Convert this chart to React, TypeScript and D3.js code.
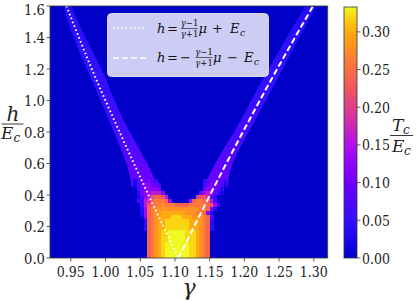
import * as d3 from 'd3';

const xTicks = [0.95, 1.0, 1.05, 1.1, 1.15, 1.2, 1.25, 1.3];
const yTicks = [0, 0.2, 0.4, 0.6, 0.8, 1.0, 1.2, 1.4, 1.6];
const cbarTicks = [0, 0.05, 0.1, 0.15, 0.2, 0.25, 0.3];

// [gamma, h]
const dottedLine: [number, number][] = [[0.9437, 1.6], [0.9802, 1.2], [1.0202, 0.8], [1.0619, 0.4], [1.105, 0]];
const dashedLine: [number, number][] = [[1.105, 0], [1.1505, 0.4], [1.1978, 0.8], [1.2472, 1.2], [1.2989, 1.6]];

// [h, gamma left edge, gamma right edge, Tc/Ec] of the thin bands along the lines
const leftBand: number[][] = [
    [1.6, 0.939, 0.951, 0.04],
    [1.4, 0.954, 0.971, 0.045],
    [1.2, 0.973, 0.994, 0.05],
    [1.0, 0.993, 1.013, 0.055],
    [0.8, 1.012, 1.035, 0.065],
    [0.6, 1.03, 1.06, 0.085],
    [0.45, 1.038, 1.075, 0.1],
];
const rightBand: number[][] = [
    [1.6, 1.288, 1.304, 0.035],
    [1.4, 1.261, 1.279, 0.045],
    [1.2, 1.235, 1.255, 0.05],
    [1.0, 1.21, 1.231, 0.055],
    [0.8, 1.185, 1.206, 0.065],
    [0.6, 1.158, 1.183, 0.085],
    [0.45, 1.142, 1.176, 0.1],
];

// dome cells: gamma 1.040..1.175 step 0.005, h 0..0.5 step 0.025 (top row first)
// char -> Tc/Ec = index * 0.02
const domeGamma0 = 1.04;
const domeRows = [
    '145554300000000000002455542',
    '145665530000000000003565531',
    '035666650000000000005665420',
    '025678886000000000057875310',
    '01468bccb800000000abb952000',
    '04389cdddc7000007cddcb84100',
    '0038bcddedddccccdddddcb7300',
    '0027cdeeeeeeeeeeeeeddc62000',
    '0027cdeefffffffeeeddc610000',
    '0016cdeffffgggfffeeedc40000',
    '0002cdeffgggggggfffedc20000',
    '0002cdeffgggggggfffedc20000',
    '0002cdeffgggggggfffedc20000',
    '0000cdefgghhhhhgggfedc00000',
    '0000cdefgghhhhhgggfedc00000',
    '0000cdefgghhhhhgggfedc00000',
    '0000cdefghhhhhhhggfedc00000',
    '0000cdefghhhhhhhggfedc00000',
    '0000cdefghhhhhhhggfedc00000',
    '0000cdefghhhhhhhggfedc00000',
];
const levelChars = '0123456789abcdefgh';

// colour map stops
const cmapV = [0, 0.025, 0.05, 0.075, 0.1, 0.125, 0.15, 0.175, 0.2, 0.225, 0.25, 0.275, 0.3, 0.315, 0.333];
const cmapC = [
    '#0000c8', '#1a06f0', '#3210ff', '#5008ff', '#7000ff', '#9004fa', '#b010e8', '#cc28b8',
    '#e0408a', '#f0565e', '#fb6e44', '#ff8c28', '#ffaa10', '#fcc80c', '#f0f921',
];
const color = d3.scaleLinear<string>().domain(cmapV).range(cmapC).interpolate(d3.interpolateRgb).clamp(true);

const serif = 'DejaVu Serif';

export default function App() {
    const x = d3.scaleLinear().domain([0.92, 1.32]).range([50, 327.7]);
    const y = d3.scaleLinear().domain([0, 1.6]).range([258, 6]);
    const yc = d3.scaleLinear().domain([0, 0.333]).range([258, 7]);

    const line = d3
        .line<[number, number]>()
        .x((d) => x(d[0]))
        .y((d) => y(d[1]))
        .curve(d3.curveNatural);

    const band = d3
        .area<number[]>()
        .y((d) => y(d[0]))
        .x0((d) => x(d[1]))
        .x1((d) => x(d[2]))
        .curve(d3.curveNatural);

    const cells: { x: number; y: number; w: number; h: number; fill: string }[] = [];
    domeRows.forEach((row, r) => {
        const j = domeRows.length - 1 - r;
        row.split('').forEach((ch, i) => {
            const v = levelChars.indexOf(ch) * 0.02;
            if (v <= 0) return;
            const g0 = domeGamma0 + i * 0.005;
            const x0 = x(g0);
            const y1 = y((j + 1) * 0.025);
            cells.push({
                x: x0,
                y: y1,
                w: x(g0 + 0.005) - x0 + 0.4,
                h: y(j * 0.025) - y1 + 0.4,
                fill: color(v),
            });
        });
    });

    const bandGrad = (id: string, data: number[][]) => {
        const hs = data.map((d) => d[0]);
        const top = d3.max(hs)!;
        const bot = d3.min(hs)!;
        return (
            <linearGradient id={id} gradientUnits="userSpaceOnUse" x1={0} x2={0} y1={y(top)} y2={y(bot)}>
                {data.map((d) => (
                    <stop key={d[0]} offset={(top - d[0]) / (top - bot)} stopColor={color(d[3])} />
                ))}
            </linearGradient>
        );
    };

    const cbarStops = d3.range(0, 1.0001, 0.02);
    const cbX = 344;
    const cbW = 13;

    return (
        <svg width={416} height={301} fontFamily={serif} style={{ position: 'absolute', left: 0, top: 0, background: '#fff' }}>
            <defs>
                <clipPath id="plot">
                    <rect x={50} y={6} width={277.7} height={252} />
                </clipPath>
                {bandGrad('lb', leftBand)}
                {bandGrad('rb', rightBand)}
                <linearGradient id="cbar" x1={0} x2={0} y1={1} y2={0}>
                    {cbarStops.map((s) => (
                        <stop key={s} offset={s} stopColor={color(s * 0.333)} />
                    ))}
                </linearGradient>
            </defs>

            <g clipPath="url(#plot)">
                <rect x={50} y={6} width={277.7} height={252} fill={color(0)} />
                <path d={band(leftBand) ?? ''} fill="url(#lb)" />
                <path d={band(rightBand) ?? ''} fill="url(#rb)" />
                <g shapeRendering="crispEdges">
                    {cells.map((c, k) => (
                        <rect key={k} x={c.x} y={c.y} width={c.w} height={c.h} fill={c.fill} />
                    ))}
                </g>
                <path d={line(dottedLine) ?? ''} fill="none" stroke="#fff" strokeWidth={2} strokeDasharray="1.6 2.6" />
                <path d={line(dashedLine) ?? ''} fill="none" stroke="#fff" strokeWidth={2} strokeDasharray="6 3" />
            </g>

            {/* legend */}
            <g>
                <rect x={107.5} y={13.5} width={161} height={63} rx={4} fill="#fff" fillOpacity={0.8} stroke="#d8d8e8" />
                <line x1={113} x2={147} y1={28} y2={28} stroke="#fff" strokeWidth={1.6} strokeDasharray="1.6 2.6" />
                <line x1={113} x2={147} y1={58} y2={58} stroke="#fff" strokeWidth={1.6} strokeDasharray="6 3" />
                <g fontSize={13} fill="#111">
                    <text x={157} y={33} fontStyle="italic">h</text>
                    <text x={167} y={33}>=</text>
                    <text x={189.5} y={26} fontSize={8.5} textAnchor="middle"><tspan fontStyle="italic">γ</tspan>−1</text>
                    <line x1={181} x2={198} y1={28.5} y2={28.5} stroke="#111" strokeWidth={0.6} />
                    <text x={189.5} y={37} fontSize={8.5} textAnchor="middle"><tspan fontStyle="italic">γ</tspan>+1</text>
                    <text x={198.5} y={33} fontStyle="italic">μ</text>
                    <text x={212} y={33}>+</text>
                    <text x={230} y={33} fontStyle="italic">E</text>
                    <text x={240} y={36} fontSize={9} fontStyle="italic">c</text>

                    <text x={157} y={62} fontStyle="italic">h</text>
                    <text x={167} y={62}>=</text>
                    <text x={180} y={62}>−</text>
                    <text x={204} y={55} fontSize={8.5} textAnchor="middle"><tspan fontStyle="italic">γ</tspan>−1</text>
                    <line x1={195.5} x2={212.5} y1={57.5} y2={57.5} stroke="#111" strokeWidth={0.6} />
                    <text x={204} y={66} fontSize={8.5} textAnchor="middle"><tspan fontStyle="italic">γ</tspan>+1</text>
                    <text x={213} y={62} fontStyle="italic">μ</text>
                    <text x={227} y={62}>−</text>
                    <text x={244} y={62} fontStyle="italic">E</text>
                    <text x={254} y={65} fontSize={9} fontStyle="italic">c</text>
                </g>
            </g>

            {/* frame */}
            <rect x={50} y={6} width={277.7} height={252} fill="none" stroke="#333" strokeWidth={0.8} />

            {/* x axis */}
            <g fontSize={15} fill="#222" textAnchor="middle">
                {xTicks.map((t) => (
                    <g key={t}>
                        <line x1={x(t)} x2={x(t)} y1={258} y2={261.5} stroke="#333" strokeWidth={0.8} />
                        <text x={x(t)} y={277} textLength={28} lengthAdjust="spacingAndGlyphs">{t.toFixed(2)}</text>
                    </g>
                ))}
            </g>
            <text x={189} y={295} fontSize={22} fontStyle="italic" textAnchor="middle" fill="#222">γ</text>

            {/* y axis */}
            <g fontSize={15} fill="#222" textAnchor="end">
                {yTicks.map((t) => (
                    <g key={t}>
                        <line x1={46.5} x2={50} y1={y(t)} y2={y(t)} stroke="#333" strokeWidth={0.8} />
                        <text x={45} y={Math.max(y(t) + 5.5, 15)} textLength={21} lengthAdjust="spacingAndGlyphs">{t.toFixed(1)}</text>
                    </g>
                ))}
            </g>
            <g fill="#222" fontStyle="italic">
                <text x={13} y={121} fontSize={20} textAnchor="middle">h</text>
                <line x1={1.5} x2={23.5} y1={124} y2={124} stroke="#222" strokeWidth={0.9} />
                <text x={1} y={139} fontSize={17}>E</text>
                <text x={13.5} y={142} fontSize={12}>c</text>
            </g>

            {/* colorbar */}
            <rect x={cbX} y={7} width={cbW} height={251} fill="url(#cbar)" stroke="#333" strokeWidth={0.8} />
            <g fontSize={15} fill="#222">
                {cbarTicks.map((t) => (
                    <g key={t}>
                        <line x1={cbX + cbW} x2={cbX + cbW + 3.5} y1={yc(t)} y2={yc(t)} stroke="#333" strokeWidth={0.8} />
                        <text x={362} y={yc(t) + 5.5} textLength={28} lengthAdjust="spacingAndGlyphs">{t.toFixed(2)}</text>
                    </g>
                ))}
            </g>
            <g fill="#222" fontStyle="italic">
                <text x={392} y={131} fontSize={17}>T</text>
                <text x={403} y={134} fontSize={12}>c</text>
                <line x1={390} x2={413} y1={135.5} y2={135.5} stroke="#222" strokeWidth={0.9} />
                <text x={392} y={152} fontSize={17}>E</text>
                <text x={404} y={155} fontSize={12}>c</text>
            </g>
        </svg>
    );
}
